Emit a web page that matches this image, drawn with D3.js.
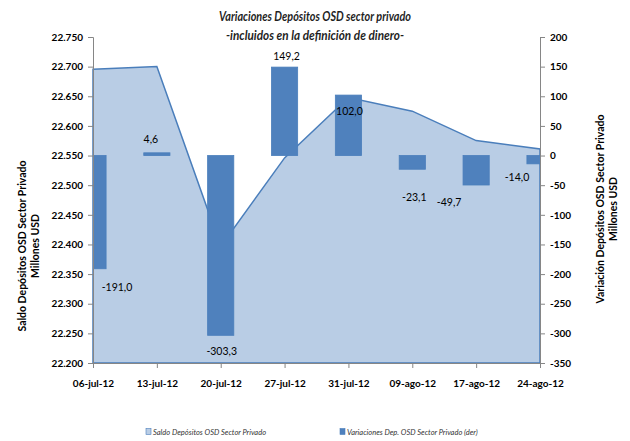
<!DOCTYPE html>
<html>
<head>
<meta charset="utf-8">
<script src="https://cdn.jsdelivr.net/npm/d3@7"></script>
<style>
  html, body { margin: 0; padding: 0; background: #fff; }
  svg { display: block; font-family: Lato, "Open Sans", sans-serif; }
</style>
</head>
<body>
<svg id="chart" width="630" height="441"></svg>
<script>
// ---- Data ----
const categories = ["06-jul-12", "13-jul-12", "20-jul-12", "27-jul-12", "31-jul-12", "09-ago-12", "17-ago-12", "24-ago-12"];
const saldo = [22695.5, 22700.1, 22396.8, 22546.0, 22648.0, 22624.9, 22575.2, 22561.2];
const variaciones = [-191.0, 4.6, -303.3, 149.2, 102.0, -23.1, -49.7, -14.0];
const leftTicks = [22200, 22250, 22300, 22350, 22400, 22450, 22500, 22550, 22600, 22650, 22700, 22750];
const rightTicks = [-350, -300, -250, -200, -150, -100, -50, 0, 50, 100, 150, 200];
const seriesNames = ["Saldo Depósitos OSD Sector Privado", "Variaciones Dep. OSD Sector Privado (der)"];
const titleLines = ["Variaciones Depósitos OSD sector privado", "-incluidos en la definición de dinero-"];
// manual label nudges (px) relative to the bar end, as in the reference
const labelDx = [24, -6, 1, 2, 1, 2, -27, -23];
const labelDy = [19, -13, 16, -11, 16, 28, 17, 13];

// ---- Layout ----
const svg = d3.select("#chart");
const L = 93, R = 540, T = 37, B = 363;

const x = d3.scalePoint().domain(categories).range([L, R]);
const yL = d3.scaleLinear().domain([22200, 22750]).range([B, T]);
const yR = d3.scaleLinear().domain([-350, 200]).range([B, T]);
const barW = x.step() * 0.41;

const fmtL = v => d3.format(",.0f")(v).replace(/,/g, ".").replace(/^(\d+)\.(\d{3})$/, "$1.$2");
const fmtLbl = v => d3.format(".1f")(v).replace(".", ",").replace("−", "-");

// clip
svg.append("defs").append("clipPath").attr("id", "plotclip")
  .append("rect").attr("x", L).attr("y", T - 1).attr("width", R - L).attr("height", B - T + 1);

// area
const area = d3.area().x((d, i) => x(categories[i])).y0(B).y1(d => yL(d));
svg.append("path").datum(saldo)
  .attr("d", area)
  .attr("fill", "#B9CDE5")
  .attr("stroke", "#4A7EBB")
  .attr("stroke-width", 1.5)
  .attr("stroke-linejoin", "miter");

// bars
svg.append("g").attr("clip-path", "url(#plotclip)")
  .selectAll("rect").data(variaciones).join("rect")
  .attr("x", (d, i) => x(categories[i]) - barW / 2)
  .attr("width", barW)
  .attr("y", d => Math.min(yR(d), yR(0)))
  .attr("height", d => Math.abs(yR(d) - yR(0)))
  .attr("fill", "#4F81BD")
  .attr("stroke", "#4A7EBB")
  .attr("stroke-width", 0.8);

// axes
const axisColor = "#868686";
const gL = svg.append("g").attr("transform", `translate(${L},0)`)
  .call(d3.axisLeft(yL).tickValues(leftTicks).tickSize(5).tickPadding(5).tickFormat(fmtL));
const gR = svg.append("g").attr("transform", `translate(${R},0)`)
  .call(d3.axisRight(yR).tickValues(rightTicks).tickSize(5).tickPadding(5).tickFormat(d => d3.format("d")(d).replace("−", "-")));
const gB = svg.append("g").attr("transform", `translate(0,${B})`)
  .call(d3.axisBottom(x).tickSize(5).tickPadding(12));
[gL, gR, gB].forEach(g => {
  g.selectAll("path.domain").attr("stroke", axisColor).attr("stroke-width", 1);
  g.selectAll(".tick line").attr("stroke", axisColor);
  g.selectAll(".tick text").attr("fill", "#000").attr("font-size", 10).attr("font-weight", "bold")
    .attr("font-family", "Lato, sans-serif");
});

// data labels
svg.append("g").selectAll("text").data(variaciones).join("text")
  .attr("x", (d, i) => x(categories[i]) + labelDx[i])
  .attr("y", (d, i) => yR(d) + labelDy[i])
  .attr("dy", "0.35em")
  .attr("text-anchor", "middle")
  .attr("font-size", 10.5)
  .attr("fill", "#000")
  .text(d => fmtLbl(d));

// title
svg.append("g").selectAll("text").data(titleLines).join("text")
  .attr("x", 315)
  .attr("y", (d, i) => 21 + i * 19)
  .attr("text-anchor", "middle")
  .attr("font-size", 13)
  .attr("font-weight", "bold")
  .attr("font-style", "italic")
  .attr("fill", "#1F1F1F")
  .attr("textLength", (d, i) => i === 0 ? 192 : 178)
  .attr("lengthAdjust", "spacingAndGlyphs")
  .text(d => d);

// axis titles
const leftTitle = svg.append("text")
  .attr("transform", "translate(26,246) rotate(-90)")
  .attr("text-anchor", "middle").attr("font-size", 10.5).attr("font-weight", "bold").attr("fill", "#000");
leftTitle.append("tspan").attr("x", 0).attr("y", 0).text("Saldo Depósitos OSD  Sector Privado");
leftTitle.append("tspan").attr("x", 0).attr("y", 13).text("Millones USD");

const rightTitle = svg.append("text")
  .attr("transform", "translate(604,209) rotate(-90)")
  .attr("text-anchor", "middle").attr("font-size", 10.5).attr("font-weight", "bold").attr("fill", "#000");
rightTitle.append("tspan").attr("x", 0).attr("y", 0).text("Variación  Depósitos OSD  Sector Privado");
rightTitle.append("tspan").attr("x", 0).attr("y", 13).text("Millones USD");

// legend
const legendX = [146, 340];
const legendFill = ["#B9CDE5", "#4F81BD"];
const lg = svg.append("g").selectAll("g").data(seriesNames).join("g")
  .attr("transform", (d, i) => `translate(${legendX[i]},432)`);
lg.append("rect").attr("x", 0).attr("y", -3.5).attr("width", 5).attr("height", 6)
  .attr("fill", (d, i) => legendFill[i]).attr("stroke", "#4A7EBB").attr("stroke-width", 0.6);
lg.append("text").attr("x", 7).attr("y", 0).attr("dy", "0.35em")
  .attr("font-size", 7.5).attr("font-style", "italic").attr("fill", "#333")
  .text(d => d);
</script>
</body>
</html>
